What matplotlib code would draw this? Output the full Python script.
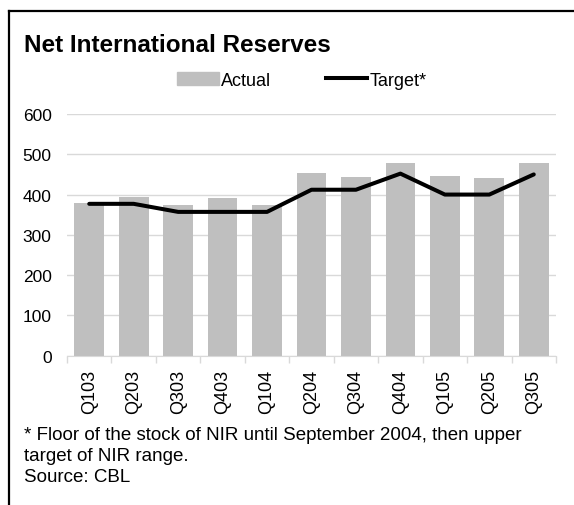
import matplotlib.pyplot as plt
from matplotlib.lines import Line2D
from matplotlib.patches import Patch
import numpy as np

plt.rcParams['font.family'] = ['Liberation Sans', 'DejaVu Sans']

quarters = ['Q103', 'Q203', 'Q303', 'Q403', 'Q104', 'Q204',
            'Q304', 'Q404', 'Q105', 'Q205', 'Q305']
actual = [379, 394, 374, 391, 374, 453, 444, 478, 446, 441, 478]
target = [377, 377, 357, 357, 357, 412, 412, 452, 400, 400, 450]

W, H = 574, 506
fig = plt.figure(figsize=(W / 100, H / 100), dpi=100)

# axes box in pixel terms
left, right, top, bottom = 67, 556, 115, 356.7
ax = fig.add_axes([left / W, 1 - bottom / H, (right - left) / W, (bottom - top) / H])

x = np.arange(len(quarters))
ax.bar(x, actual, width=0.67, color='#bfbfbf', zorder=2)
ax.plot(x, target, color='black', lw=2.9, solid_capstyle='round',
        solid_joinstyle='round', zorder=3)

ax.set_xlim(-0.5, len(quarters) - 0.5)
ax.set_ylim(0, 600)
ax.set_yticks(range(0, 601, 100))
ax.yaxis.grid(True, color='#d9d9d9', lw=1)
ax.set_axisbelow(True)
ax.tick_params(axis='y', length=0, labelsize=12.5, pad=11)

# category ticks sit on the boundaries, labels centred on the bars
ax.set_xticks(np.arange(-0.5, len(quarters)), minor=False)
ax.set_xticklabels([])
ax.set_xticks(x, minor=True)
ax.set_xticklabels(quarters, minor=True, rotation=90, fontsize=13)
ax.tick_params(axis='x', which='major', length=5, color='#d9d9d9', width=1)
ax.tick_params(axis='x', which='minor', length=0, pad=9.5)

for s in ['top', 'right', 'left']:
    ax.spines[s].set_visible(False)
ax.spines['bottom'].set_color('#d9d9d9')

handles = [Patch(color='#bfbfbf', label='Actual'),
           Line2D([], [], color='black', lw=2.9, label='Target*')]
fig.legend(handles=handles, loc='center', bbox_to_anchor=(302 / W, 1 - 81 / H),
           ncol=2, frameon=False, fontsize=13, handlelength=2.3,
           handletextpad=0.15, columnspacing=3.0, borderpad=0, borderaxespad=0)

fig.text(24 / W, 1 - 45 / H, 'Net International Reserves', fontsize=17.5,
         fontweight='bold', va='center', ha='left')

fig.text(24 / W, 1 - 435 / H,
         '* Floor of the stock of NIR until September 2004, then upper',
         fontsize=13.5, va='center')
fig.text(24 / W, 1 - 457 / H, 'target of NIR range.', fontsize=13.5, va='center')
fig.text(24 / W, 1 - 478 / H, 'Source: CBL', fontsize=13.5, va='center')

# outer frame: top edge and left edge
fig.add_artist(Line2D([9 / W, 1], [1 - 12 / H, 1 - 12 / H], color='black', lw=1.6))
fig.add_artist(Line2D([9 / W, 9 / W], [0, 1 - 12 / H], color='black', lw=1.6))

fig.savefig('out.png', dpi=100)
